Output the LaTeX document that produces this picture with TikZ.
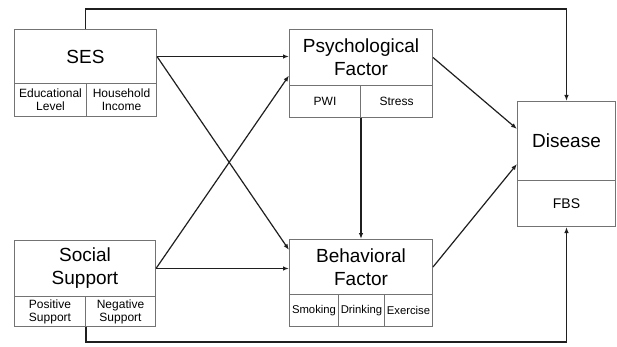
\documentclass[tikz,border=0pt]{standalone}
\usepackage{fontspec}
\setmainfont{Liberation Sans}
\usetikzlibrary{arrows.meta}
\definecolor{boxgray}{gray}{0.45}
\definecolor{linkgray}{gray}{0.12}
\begin{document}
\begin{tikzpicture}[x=1pt,y=-1pt,
    head/.style={draw=boxgray, line width=1pt, inner sep=0pt, align=center, anchor=north west, font=\fontsize{19}{23}\selectfont},
    cell/.style={draw=boxgray, line width=1pt, inner sep=0pt, align=center, anchor=north west, font=\fontsize{12}{13}\selectfont},
    link/.style={-{Latex[length=6pt,width=4.5pt]}, line width=1.2pt, color=linkgray}]

    \useasboundingbox (0,0) rectangle (617,347);

	% SES
	\node[head, minimum width=142, minimum height=54] (ses) at (14,29) {SES};
	\node[cell, minimum width=72, minimum height=33] (edu) at (14,83) {Educational\\Level};
	\node[cell, minimum width=70, minimum height=33] (inc) at (86,83) {Household\\Income};

	% Social support
	\node[head, minimum width=141, minimum height=56] (soc) at (14,240) {Social\\Support};
	\node[cell, minimum width=71, minimum height=30] (pos) at (14,296) {Positive\\Support};
	\node[cell, minimum width=70, minimum height=30] (neg) at (85,296) {Negative\\Support};

	% Psychological factor
	\node[head, minimum width=143, minimum height=56] (psy) at (289,29) {Psychological\\Factor};
	\node[cell, minimum width=71, minimum height=32] (pwi) at (289,85) {PWI};
	\node[cell, minimum width=72, minimum height=32] (str) at (360,85) {Stress};

	% Behavioral factor
	\node[head, minimum width=143, minimum height=55] (beh) at (289,239) {Behavioral\\Factor};
	\node[cell, minimum width=49, minimum height=32, font=\fontsize{11.3}{13}\selectfont] (smo) at (289,294) {Smoking};
	\node[cell, minimum width=46, minimum height=32, font=\fontsize{11.3}{13}\selectfont] (dri) at (338,294) {Drinking};
	\node[cell, minimum width=48, minimum height=32, font=\fontsize{11.3}{13}\selectfont] (exe) at (384,294) {Exercise};

	% Disease
	\node[head, minimum width=98, minimum height=79] (dis) at (517,101) {Disease};
	\node[cell, minimum width=98, minimum height=46, font=\fontsize{14}{16}\selectfont] (fbs) at (517,180) {FBS};

	% Direct paths to disease
	\draw[link] (ses.north) -- ++(0,-20) -| (dis.north);
	\draw[link] (pos.south east) -- ++(0,15) -| (fbs.south);

	% Paths to the factors
	\draw[link] (ses.east) -- (ses.east -| psy.west);
	\draw[link] (ses.east) -- ([yshift=17pt]beh.west);
	\draw[link] (soc.east) -- ([yshift=-18pt]psy.west);
	\draw[link] (soc.east) -- (soc.east -| beh.west);
	\draw[link] (pwi.south east) -- (pwi.south east |- beh.north);

	% Factors to disease
	\draw[link] (psy.east) -- ([yshift=12pt]dis.west);
	\draw[link] (beh.east) -- ([yshift=-23pt]dis.west);

\end{tikzpicture}
\end{document}
